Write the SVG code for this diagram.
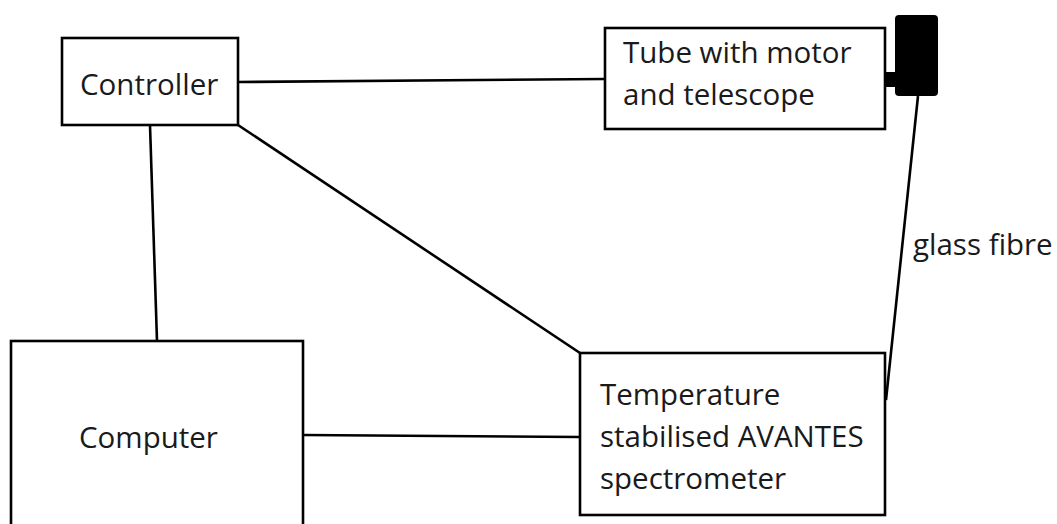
<svg xmlns="http://www.w3.org/2000/svg" width="1057" height="524" viewBox="0 0 1057 524">
<style>
.box{fill:#ffffff;stroke:#000000;stroke-width:2.6}
.lbl{font-family:"Open Sans","Liberation Sans",sans-serif;font-size:29.5px;fill:#1a1a1a}
.con{stroke:#000000;stroke-width:2.6;fill:none}
</style>
<rect width="1057" height="524" fill="#ffffff"/>
<g id="connectors">
<line class="con" x1="238" y1="82" x2="605" y2="79"/>
<line class="con" x1="238" y1="125" x2="580" y2="353"/>
<line class="con" x1="150" y1="125" x2="157" y2="341"/>
<line class="con" x1="303" y1="435" x2="580" y2="437"/>
<line class="con" x1="918" y1="96" x2="886" y2="400"/>
</g>
<g id="controller">
<rect class="box" x="62" y="38" width="176" height="87"/>
<text class="lbl" x="80" y="95">Controller</text>
</g>
<g id="tube">
<rect class="box" x="605" y="28" width="280" height="101"/>
<text class="lbl" x="623" y="63">Tube with motor</text>
<text class="lbl" x="623" y="105">and telescope</text>
</g>
<g id="telescope-head">
<rect x="884" y="72" width="13" height="15" fill="#000000"/>
<rect x="895" y="15" width="43" height="81" rx="4" fill="#000000"/>
</g>
<g id="computer">
<rect class="box" x="11" y="341" width="292" height="200"/>
<text class="lbl" x="79" y="448">Computer</text>
</g>
<g id="spectrometer">
<rect class="box" x="580" y="353" width="305" height="162"/>
<text class="lbl" x="600" y="405">Temperature</text>
<text class="lbl" x="600" y="447">stabilised AVANTES</text>
<text class="lbl" x="600" y="489">spectrometer</text>
</g>
<g id="fibre-label">
<text class="lbl" x="913" y="255">glass fibre</text>
</g>
</svg>
